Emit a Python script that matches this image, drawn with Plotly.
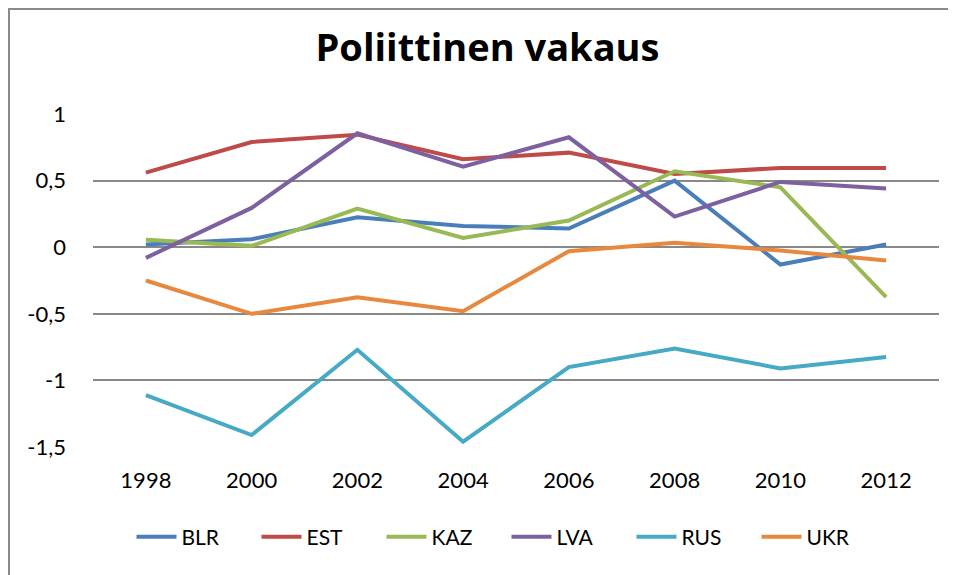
import plotly.graph_objects as go

years = ["1998", "2000", "2002", "2004", "2006", "2008", "2010", "2012"]
BLR = [0.02, 0.06, 0.225, 0.16, 0.14, 0.50, -0.13, 0.02]
EST = [0.56, 0.79, 0.845, 0.66, 0.71, 0.55, 0.595, 0.595]
KAZ = [0.055, 0.01, 0.29, 0.07, 0.20, 0.57, 0.45, -0.375]
LVA = [-0.08, 0.295, 0.855, 0.605, 0.825, 0.23, 0.49, 0.44]
RUS = [-1.11, -1.41, -0.77, -1.46, -0.90, -0.76, -0.91, -0.825]
UKR = [-0.25, -0.50, -0.375, -0.48, -0.03, 0.033, -0.025, -0.10]

series_names = ["BLR", "EST", "KAZ", "LVA", "RUS", "UKR"]
series_values = [BLR, EST, KAZ, LVA, RUS, UKR]
colors = ["#4A7EBB", "#BE4B48", "#98B954", "#7D60A0", "#46AAC5", "#E8883E"]

y_tickvals = [-1.5, -1, -0.5, 0, 0.5, 1]
y_ticktext = ["-1,5", "-1", "-0,5", "0", "0,5", "1"]

FONT = "Lato"

# the page body has an 8px margin, so the figure is laid out 8px smaller
W, H = 948, 567
L, T, B = 85, 106, 128
R = W - L - 846
PH = H - T - B

fig = go.Figure()
for name, vals, col in zip(series_names, series_values, colors):
    fig.add_trace(go.Scatter(
        x=years, y=vals, name=name, mode="lines",
        line=dict(color=col, width=4),
    ))

fig.update_layout(
    width=W, height=H,
    margin=dict(l=L, r=R, t=T, b=B, autoexpand=False),
    paper_bgcolor="white", plot_bgcolor="white",
    font=dict(family=FONT, color="black", size=22),
    title=dict(
        text="<b>Poliittinen vakaus</b>",
        font=dict(family="Open Sans", size=38, color="black"),
        x=479.5 / W, xref="container", xanchor="center",
        y=1 - 40 / H, yref="container", yanchor="middle",
    ),
    xaxis=dict(
        type="category", range=[-0.5, 7.5],
        showgrid=False, showline=False, zeroline=False,
        ticks="", tickfont=dict(size=22, family=FONT),
        ticklabelstandoff=18,
    ),
    yaxis=dict(
        range=[-1.5, 1], tickvals=y_tickvals, ticktext=y_ticktext,
        showgrid=True, gridcolor="#888888", gridwidth=1.5,
        zeroline=False, showline=False, ticks="",
        tickfont=dict(size=22, family=FONT),
        ticklabelstandoff=26,
    ),
    legend=dict(
        orientation="h", x=(498.5 - L) / 846, xanchor="center",
        y=-(529 - (T + PH)) / PH, yanchor="middle",
        font=dict(size=21, family=FONT),
        itemwidth=40, entrywidth=70, entrywidthmode="pixels",
        tracegroupgap=0,
    ),
    showlegend=True,
    shapes=[
        dict(type="line", xref="paper", yref="paper",
             x0=-L / 846, x1=(W - L) / 846, y0=1 + (T - 1) / PH, y1=1 + (T - 1) / PH,
             line=dict(color="#8a8a8a", width=2)),
        dict(type="line", xref="paper", yref="paper",
             x0=(1 - L) / 846, x1=(1 - L) / 846, y0=-B / PH, y1=1 + T / PH,
             line=dict(color="#8a8a8a", width=2)),
    ],
)

fig.write_html("out.html")
